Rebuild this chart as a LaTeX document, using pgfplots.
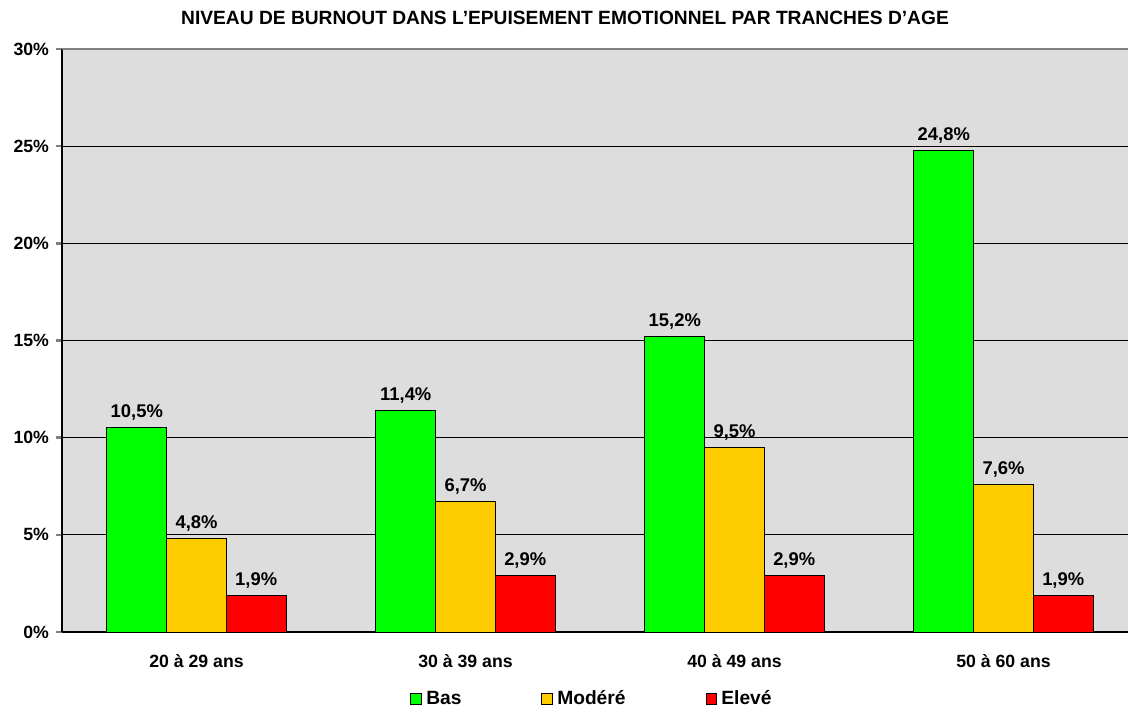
\documentclass[border=0pt]{standalone}
\usepackage{pgfplots}
\pgfplotsset{compat=1.18}
\usepackage{fontspec}
\setmainfont{Liberation Sans}
\definecolor{bgc}{HTML}{DDDDDD}
\definecolor{cbas}{HTML}{00FF00}
\definecolor{cmod}{HTML}{FFCC00}
\definecolor{celv}{HTML}{FF0000}
\begin{document}
\begin{tikzpicture}
\useasboundingbox (-31pt,-38.5pt) rectangle (533pt,316pt);
\begin{axis}[
  at={(0,0)}, anchor=south west,
  scale only axis, width=538pt, height=291.5pt,
  xmin=-0.5, xmax=3.5, ymin=0, ymax=30,
  axis x line*=bottom, axis y line*=left,
  axis line style={line width=1.3pt},
  axis background/.style={fill=bgc},
  ytick={0,5,...,30},
  yticklabel={\pgfmathprintnumber{\tick}\%},
  ymajorgrids, grid style={black, line width=0.5pt},
  xtick={0,1,2,3},
  xticklabels={20 à 29 ans,30 à 39 ans,40 à 49 ans,50 à 60 ans},
  x tick style={draw=none},
  extra x ticks={0.5,1.5,2.5},
  extra x tick labels={},
  extra x tick style={tick style={draw=black, line width=1.3pt}, tick align=outside, major tick length=3pt, grid=none},
  y tick style={line width=1.3pt},
  tick align=outside, major tick length=3pt,
  ticklabel style={font=\bfseries\fontsize{8.85}{10}\selectfont},
  xticklabel style={yshift=-4.5pt},
  /pgf/number format/assume math mode=true,
  ybar, bar width=0.222,
  every axis plot/.append style={draw=black, line width=0.5pt},
  nodes near coords={\pgfmathprintnumber[fixed,fixed zerofill,precision=1,use comma]{\pgfplotspointmeta}\%},
  every node near coord/.append style={font=\bfseries\fontsize{9.2}{10}\selectfont, black, yshift=0pt},
  legend columns=3,
  legend style={draw=none, fill=none, at={(0.4935,0)}, anchor=center, yshift=-33.5pt,
    font=\bfseries\fontsize{9.6}{11}\selectfont,
    /tikz/every even column/.append style={column sep=38pt}},
  legend image code/.code={\draw[#1, line width=0.5pt] (0pt,-2.7pt) rectangle (5.4pt,2.7pt);},
  clip=false,
]
\addplot[fill=cbas, bar shift=-0.222] coordinates {(0,10.5) (1,11.4) (2,15.2) (3,24.8)};
\addplot[fill=cmod, bar shift=0] coordinates {(0,4.8) (1,6.7) (2,9.5) (3,7.6)};
\addplot[fill=celv, bar shift=0.222] coordinates {(0,1.9) (1,2.9) (2,2.9) (3,1.9)};
\legend{Bas,Modéré,Elevé}
\draw[gray, line width=1pt] (rel axis cs:0,1) -- (rel axis cs:1,1);
\end{axis}
\node[font=\bfseries\fontsize{9.6}{11}\selectfont] at (251.5pt,307pt) {NIVEAU DE BURNOUT DANS L'EPUISEMENT EMOTIONNEL PAR TRANCHES D'AGE};
\end{tikzpicture}
\end{document}
